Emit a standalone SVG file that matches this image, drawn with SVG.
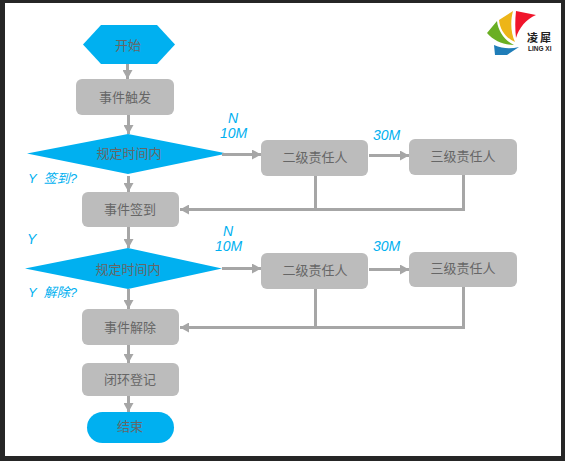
<svg xmlns="http://www.w3.org/2000/svg" width="565" height="461" viewBox="0 0 565 461">
<style>
.blue{fill:#00b0f0}
.box{fill:#bcbcbc}
.t{font-family:"Noto Sans CJK SC","Liberation Sans",sans-serif;font-size:13px;fill:#666;text-anchor:middle}
.l{font-family:"Liberation Sans","Noto Sans CJK SC",sans-serif;font-size:14px;font-style:italic;fill:#00b0f0}
.s{font-size:13px}
.c{fill:none;stroke:#a6a6a6;stroke-width:3}
</style>
<defs>
<marker id="a" markerUnits="userSpaceOnUse" markerWidth="9" markerHeight="10" refX="9" refY="5" orient="auto"><path d="M0 0L9 5L0 10Z" fill="#a6a6a6"/></marker>
</defs>
<rect width="565" height="461" fill="#262626"/>
<rect x="5" y="3" width="556" height="453" fill="#fff"/>
<g id="start"><path class="blue" d="M83 44.500L101 25H157L175 44.500L157 64H101Z"/><text class="t" x="128" y="50">开始</text></g>
<g id="trigger"><rect class="box" x="76" y="79" width="98" height="36" rx="6"/><text class="t" x="125" y="102">事件触发</text></g>
<g id="decision1"><path class="blue" d="M27 153.500L128 134L227 153.500L128 174Z"/><text class="t" x="129" y="158">规定时间内</text></g>
<g id="signin"><rect class="box" x="82" y="192" width="97" height="35" rx="6"/><text class="t" x="130" y="214">事件签到</text></g>
<g id="level2a"><rect class="box" x="261" y="140" width="107" height="36" rx="6"/><text class="t" x="315" y="162">二级责任人</text></g>
<g id="level3a"><rect class="box" x="409" y="139" width="108" height="36" rx="6"/><text class="t" x="463" y="161">三级责任人</text></g>
<g id="decision2"><path class="blue" d="M25 268.500L128 248L222 268.500L128 289Z"/><text class="t" x="128" y="274">规定时间内</text></g>
<g id="resolve"><rect class="box" x="82" y="309" width="97" height="36" rx="6"/><text class="t" x="130" y="332">事件解除</text></g>
<g id="level2b"><rect class="box" x="261" y="253" width="107" height="36" rx="6"/><text class="t" x="315" y="275">二级责任人</text></g>
<g id="level3b"><rect class="box" x="409" y="252" width="108" height="35" rx="6"/><text class="t" x="463" y="273">三级责任人</text></g>
<g id="close"><rect class="box" x="82" y="363" width="97" height="33" rx="6"/><text class="t" x="130" y="384">闭环登记</text></g>
<g id="end"><rect class="blue" x="87" y="412" width="87" height="31" rx="15.500"/><text class="t" x="130" y="431">结束</text></g>
<g id="connectors">
<path class="c" marker-end="url(#a)" d="M127.500 64V79"/>
<path class="c" marker-end="url(#a)" d="M128.500 115V134"/>
<path class="c" marker-end="url(#a)" d="M128.500 176V192"/>
<path class="c" marker-end="url(#a)" d="M128.500 227V248"/>
<path class="c" marker-end="url(#a)" d="M128.500 289V309"/>
<path class="c" marker-end="url(#a)" d="M128.500 345V363"/>
<path class="c" marker-end="url(#a)" d="M128.500 396V412"/>
<path class="c" marker-end="url(#a)" d="M222 154.500H261"/>
<path class="c" marker-end="url(#a)" d="M369 155.500H409"/>
<path class="c" marker-end="url(#a)" d="M222 268.500H261"/>
<path class="c" marker-end="url(#a)" d="M369 269.500H409"/>
<path class="c" marker-end="url(#a)" d="M463.500 175V209.500H180"/>
<path class="c" d="M315.500 176V209.500"/>
<path class="c" marker-end="url(#a)" d="M463.500 287V327.500H180"/>
<path class="c" d="M315.500 289V327.500"/>
</g>
<g id="labels">
<text class="l" x="228" y="123">N</text>
<text class="l" x="220" y="138">10M</text>
<text class="l" x="373" y="140">30M</text>
<text class="l s" x="28" y="183">Y<tspan dx="7">签到?</tspan></text>
<text class="l" x="27" y="244">Y</text>
<text class="l" x="223" y="236">N</text>
<text class="l" x="215" y="251">10M</text>
<text class="l" x="373" y="251">30M</text>
<text class="l s" x="28" y="297">Y<tspan dx="7">解除?</tspan></text>
</g>
<g id="logo">
<path fill="#1f7db8" d="M494 45L495 55H507L519 47C511 49 503 49 494 45Z"/>
<path fill="#6aaf23" d="M487 33L497 21C498 31 505 41 514 45C504 45 494 41 487 33Z"/>
<path fill="#edb518" d="M499 20L513 11C510 22 511 33 515 42C506 38 500 30 499 20Z"/>
<path fill="#f0152b" d="M516 11L536 15C526 19 519 28 516 38C515 29 515 20 516 11Z"/>
<text x="527" y="42" style="font-family:'Noto Sans CJK SC',sans-serif;font-size:11px;font-weight:700;fill:#222;letter-spacing:2px">凌犀</text>
<text x="528" y="51" style="font-family:'Liberation Sans',sans-serif;font-size:6.500px;font-weight:700;fill:#222">LING XI</text>
</g>
</svg>
